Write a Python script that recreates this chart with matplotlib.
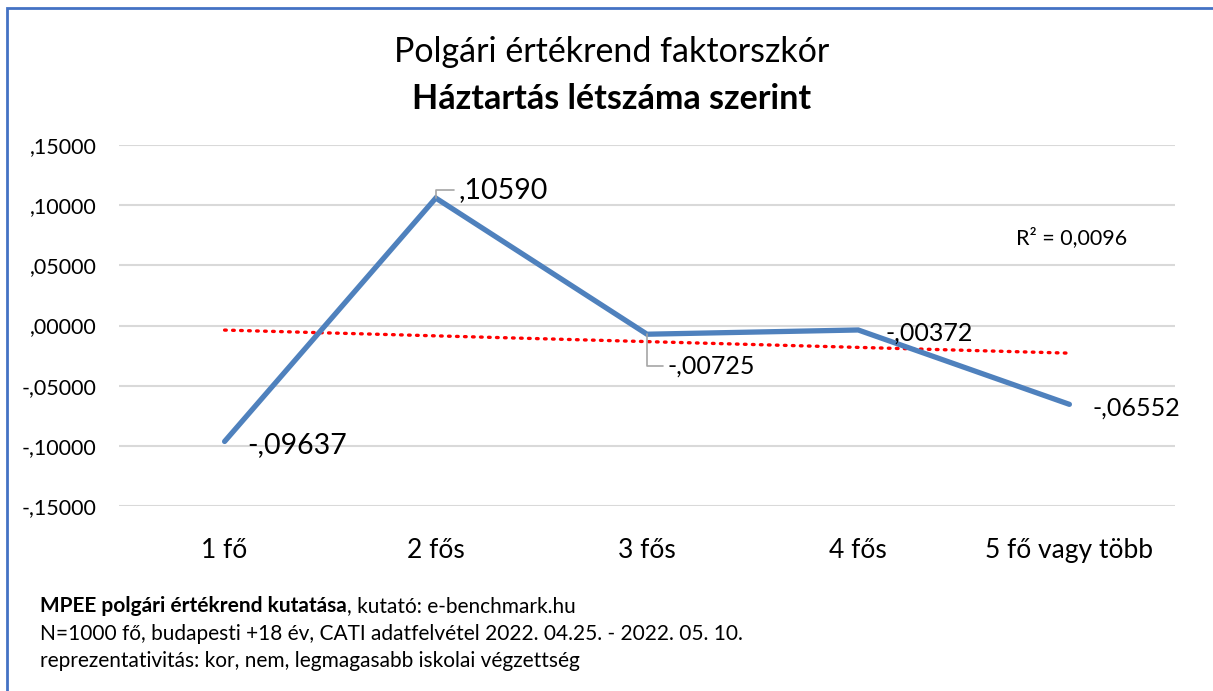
import matplotlib
matplotlib.use("Agg")
import matplotlib.pyplot as plt
from matplotlib.lines import Line2D
import numpy as np

CATEGORIES = ["1 fő", "2 fős", "3 fős", "4 fős", "5 fő vagy több"]
SCORES = [-0.09637, 0.10590, -0.00725, -0.00372, -0.06552]
LABELS = ["-,09637", ",10590", "-,00725", "-,00372", "-,06552"]
Y_TICKS = [-0.15, -0.10, -0.05, 0.0, 0.05, 0.10, 0.15]
Y_TICK_LABELS = ["-,15000", "-,10000", "-,05000", ",00000", ",05000", ",10000", ",15000"]
R2_TEXT = "R² = 0,0096"

LINE_BLUE = "#4F81BD"
BORDER_BLUE = "#4472C4"
GRID = "#D9D9D9"

plt.rcParams["font.family"] = ["Lato", "DejaVu Sans"]

W, H = 1213, 691
fig = plt.figure(figsize=(W / 100, H / 100), dpi=100)
ax = fig.add_axes([119 / W, 1 - 506 / H, (1175 - 119) / W, (506 - 145) / H])

x = np.arange(len(SCORES))
ax.plot(x, SCORES, color=LINE_BLUE, linewidth=3.8, solid_capstyle="round",
        solid_joinstyle="miter", zorder=3)

# linear trendline
coef = np.polyfit(x, SCORES, 1)
ax.plot(x, np.polyval(coef, x), color="#FF0000", linestyle=(0, (0.5, 1.9)),
        linewidth=2.4, dash_capstyle="round", zorder=2)

ax.set_xlim(-0.5, len(SCORES) - 0.5)
ax.set_ylim(-0.15, 0.15)
ax.set_yticks(Y_TICKS)
ax.set_yticklabels(Y_TICK_LABELS)
ax.set_xticks(x)
ax.set_xticklabels(CATEGORIES)
ax.tick_params(axis="y", length=0, pad=16, labelsize=15.5, colors="#000000")
ax.tick_params(axis="x", length=0, pad=23, labelsize=19, colors="#000000")
ax.grid(True, axis="y", color=GRID, linewidth=1.5, zorder=0)
for s in ax.spines.values():
    s.set_visible(False)

# data labels (offsets in points)
label_kw = dict(ha="left", va="center", zorder=5)
leader = dict(arrowstyle="-", color="#A6A6A6", linewidth=1.2, shrinkA=0, shrinkB=0)
ax.annotate(LABELS[0], (x[0], SCORES[0]), xytext=(16.5, -2.5), textcoords="offset points",
            fontsize=20.5, **label_kw)
ax.annotate(LABELS[1], (x[1], SCORES[1]), xytext=(16.5, 6), textcoords="offset points",
            fontsize=20.5,
            arrowprops=dict(connectionstyle="angle,angleA=0,angleB=90,rad=0",
                            relpos=(-0.05, 0.5), **leader),
            **label_kw)
ax.annotate(LABELS[2], (x[2], SCORES[2]), xytext=(14.5, -23), textcoords="offset points",
            fontsize=18,
            arrowprops=dict(connectionstyle="angle,angleA=0,angleB=90,rad=0",
                            relpos=(-0.05, 0.5), **leader),
            **label_kw)
ax.annotate(LABELS[3], (x[3], SCORES[3]), xytext=(20, -2.5), textcoords="offset points",
            fontsize=18, **label_kw)
ax.annotate(LABELS[4], (x[4], SCORES[4]), xytext=(16.5, -2.5), textcoords="offset points",
            fontsize=18, **label_kw)

fig.text(1072 / W, 1 - 238 / H, R2_TEXT, fontsize=15.5, ha="center", va="center")

# titles
fig.text(612 / W, 1 - 52 / H, "Polgári értékrend faktorszkór", fontsize=24.5, ha="center", va="center")
fig.text(612 / W, 1 - 99 / H, "Háztartás létszáma szerint", fontsize=24.5, fontweight="bold",
         ha="center", va="center")

# footer
t0 = fig.text(40 / W, 1 - 606 / H, "MPEE polgári értékrend kutatása", fontsize=15,
              fontweight="bold", ha="left", va="center")
fig.canvas.draw()
bb = t0.get_window_extent()
fig.text(bb.x1 / W, 1 - 606 / H, ", kutató: e-benchmark.hu", fontsize=15, ha="left", va="center")
fig.text(40 / W, 1 - 634 / H,
         "N=1000 fő, budapesti +18 év, CATI adatfelvétel 2022. 04.25. - 2022. 05. 10.",
         fontsize=15, ha="left", va="center")
fig.text(40 / W, 1 - 661 / H, "reprezentativitás: kor, nem, legmagasabb iskolai végzettség",
         fontsize=15, ha="left", va="center")

# outer frame (top and left edges visible)
fy = 1 - 7.5 / H
fx = 7 / W
fig.add_artist(Line2D([fx, fx, 1], [0, fy, fy], transform=fig.transFigure,
                      color=BORDER_BLUE, linewidth=2.0, solid_joinstyle="miter"))

fig.savefig("out.png", dpi=100)
